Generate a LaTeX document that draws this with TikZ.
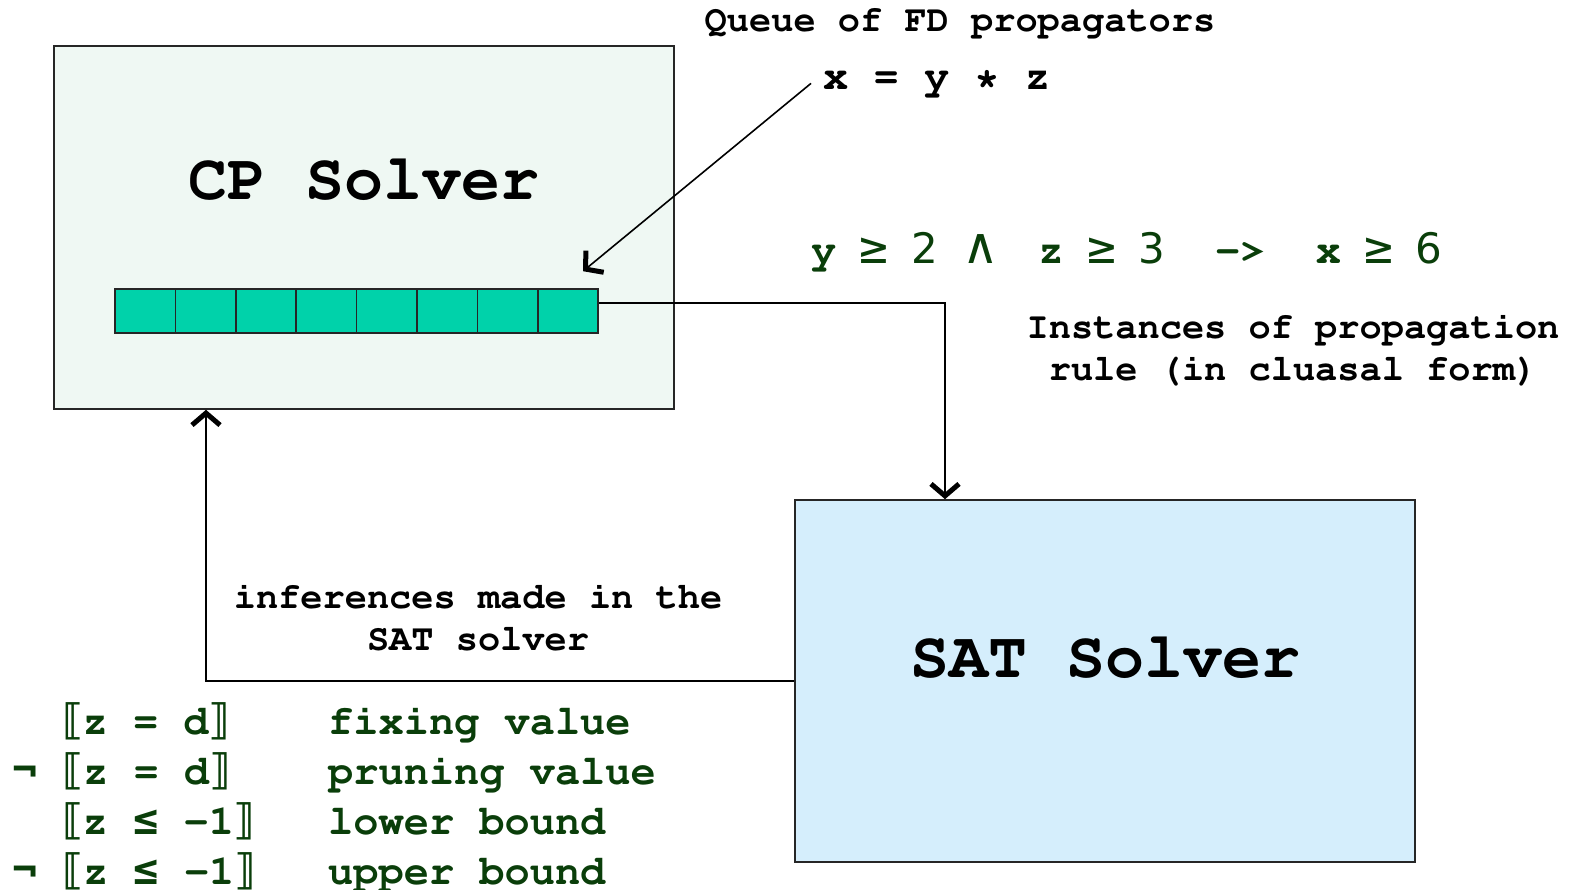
\documentclass[tikz,border=0pt]{standalone}
\usepackage{fontspec}
\setmainfont{Liberation Serif}
\newfontfamily\symmono{DejaVu Sans Mono}
\newfontfamily\symsans{DejaVu Sans}
\usetikzlibrary{arrows.meta,positioning}
\definecolor{cpfill}{RGB}{239,248,243}
\definecolor{satfill}{RGB}{213,238,252}
\definecolor{queuefill}{RGB}{0,210,170}
\definecolor{rulegreen}{RGB}{10,62,10}
\newcommand{\cour}{\fontencoding{T1}\fontfamily{pcr}\fontseries{b}\selectfont}
\newcommand{\sy}[1]{{\symmono #1}}
\newcommand{\br}[1]{{\symsans #1}}
\newcommand{\geqsym}{\makebox[25.3pt]{\symmono\mdseries\fontsize{48}{48}\selectfont ≥}}
\newcommand{\dg}[1]{\makebox[25.3pt]{\symsans\mdseries #1}}
\newcommand{\wedgesym}{\makebox[50.6pt][l]{\symsans\mdseries\fontsize{50}{50}\selectfont ∧}}
\tikzset{
  solver/.style={rectangle, draw=black!85, line width=1.6pt, inner sep=0pt},
  cell/.style={rectangle, draw=black!85, line width=1.6pt, fill=queuefill,
               minimum width=60.4pt, minimum height=44pt, inner sep=0pt},
  conn/.style={-{Straight Barb[length=12pt,width=28pt,line width=5pt 0]}, line width=1.6pt},
  lbl/.style={font=\fontsize{37}{42}\cour, inner sep=0pt, align=center},
  biglbl/.style={font=\fontsize{65}{70}\cour, inner sep=0pt},
  rulelbl/.style={font=\fontsize{42}{46}\cour, text=rulegreen, inner sep=0pt},
}
\begin{document}
\begin{tikzpicture}[x=1pt,y=-1pt]
\useasboundingbox (0,0) rectangle (1577,890);

% the two solvers
\node[solver, fill=cpfill, minimum width=620pt, minimum height=363pt] (cp) at (364,227.5) {};
\node[solver, fill=satfill, minimum width=620pt, minimum height=362pt] (sat) at (1105,681) {};
\node[biglbl, anchor=base] (cptitle) at (364,200) {CP Solver};
\node[biglbl, anchor=base] (sattitle) at (1105,677) {SAT Solver};

% queue of propagators
\foreach \i in {1,...,8}
  \node[cell] (q\i) at ({115+60.4*(\i-0.5)},311) {};

\node[lbl, anchor=base] (queuelbl) at (960,32) {Queue of FD propagators};
\node[rulelbl, text=black, anchor=base west] (prop) at (823,90) {x = y * z};
\draw[conn] ([xshift=-12pt]prop.west) -- ([xshift=15pt,yshift=17pt]q8.north);

% clauses to the SAT solver
\node[rulelbl, anchor=base west] (clause) at (811,264)
  {y \geqsym{} \dg{2} \wedgesym{} z \geqsym{} \dg{3}~ ->~ x \geqsym{} \dg{6}};
\node[lbl, anchor=base] (instlbl) at (1293,381) {Instances of propagation\\rule (in cluasal form)};
\draw[conn] ([yshift=8pt]q8.east) -| ([xshift=-160pt]sat.north);

% inferences back to the CP solver
\node[lbl, anchor=base] (inflbl) at (478,650) {inferences made in the\\SAT solver};
\draw[conn] (sat.west) -| ([xshift=-158pt]cp.south);

% literals
\node[rulelbl, anchor=base west] (lit1) at (62,734) {\br{⟦}z = d\br{⟧}};
\node[rulelbl, anchor=base west] (lit2) at (12,784) {\sy{¬} \br{⟦}z = d\br{⟧}};
\node[rulelbl, anchor=base west] (lit3) at (62,834) {\br{⟦}z \sy{≤} -1\br{⟧}};
\node[rulelbl, anchor=base west] (lit4) at (12,884) {\sy{¬} \br{⟦}z \sy{≤} -1\br{⟧}};
\node[rulelbl, anchor=base west] (mean1) at (328,734) {fixing value};
\node[rulelbl, anchor=base west] (mean2) at (328,784) {pruning value};
\node[rulelbl, anchor=base west] (mean3) at (328,834) {lower bound};
\node[rulelbl, anchor=base west] (mean4) at (328,884) {upper bound};
\end{tikzpicture}
\end{document}
